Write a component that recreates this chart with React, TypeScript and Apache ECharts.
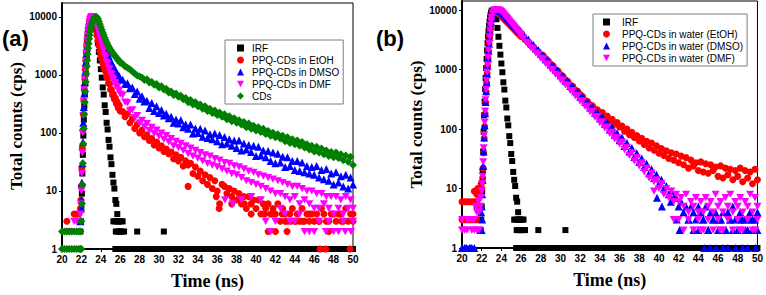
import React, { useEffect, useRef } from "react";
import * as echarts from "echarts";

// Shared time channels (ns)
const timeNs = [
  20, 20.25, 20.5, 20.75, 21, 21.25, 21.5, 21.75,
  21.9, 21.95, 22, 22.05, 22.1, 22.15, 22.2, 22.25, 22.3, 22.35, 22.4, 22.45, 22.5, 22.55,
  22.6, 22.65, 22.7, 22.75, 22.8, 22.85, 22.9, 22.95, 23,
  23.1, 23.2, 23.3, 23.4, 23.5, 23.6, 23.7, 23.8, 23.9, 24,
  24.1, 24.2, 24.3, 24.4, 24.5, 24.6, 24.7, 24.8, 24.9, 25,
  25.1, 25.2, 25.3, 25.4, 25.5, 25.6, 25.7, 25.8, 25.9, 26,
  26.25, 26.5, 26.75, 27, 27.25, 27.5, 27.75, 28,
  28.25, 28.5, 28.75, 29, 29.25, 29.5, 29.75, 30,
  30.25, 30.5, 30.75, 31, 31.25, 31.5, 31.75, 32,
  32.25, 32.5, 32.75, 33, 33.25, 33.5, 33.75, 34,
  34.25, 34.5, 34.75, 35, 35.25, 35.5, 35.75, 36,
  36.25, 36.5, 36.75, 37, 37.25, 37.5, 37.75, 38,
  38.25, 38.5, 38.75, 39, 39.25, 39.5, 39.75, 40,
  40.25, 40.5, 40.75, 41, 41.25, 41.5, 41.75, 42,
  42.25, 42.5, 42.75, 43, 43.25, 43.5, 43.75, 44,
  44.25, 44.5, 44.75, 45, 45.25, 45.5, 45.75, 46,
  46.25, 46.5, 46.75, 47, 47.25, 47.5, 47.75, 48,
  48.25, 48.5, 48.75, 49, 49.25, 49.5, 49.75, 50,
];

// IRF (same in both panels)
const irfCounts = [
  null, null, null, null, null, null, null, null,
  2, 3, 5, 9, 20, 42, 90, 170, 290, 470, 720, 1050, 1500, 2100,
  2800, 3600, 4500, 5400, 6400, 7300, 8200, 8900, 9500,
  9900, 10000, 10000, 9200, 7000, 5000, 3550, 2500, 1780, 1260,
  900, 610, 460, 300, 230, 150, 115, 76, 58, 38,
  29, 19, 14, 11, 7, 6, 4, 3, 3, 2,
  3, 1, 1, null, 1, 1, 2, 1,
  1, 1, null, 1, 1, 1, 1, 1,
  1, 2, 1, 1, null, 1, 1, 1,
  1, 1, 1, null, 1, 1, 1, 1,
  1, null, 1, 1, 1, 1, null, 1,
  1, 1, 1, 1, null, 1, 1, 1,
  1, 1, null, 1, 1, 1, 1, null,
  1, 1, 1, 1, 1, null, 1, 1,
  null, 1, 1, 1, 1, 1, null, 1,
  1, 1, 1, null, 1, 1, 1, 1,
  1, null, 1, 1, 1, 1, 1, null,
  1, 1, 1, null, 1, 1, 1, 1,
];
const irfExtra = [
  [25.3, 3], [25.45, 3], [25.55, 2], [25.65, 3], [25.75, 2], [25.85, 3], [25.95, 2],
  [26.1, 3], [26.15, 2], [26.4, 2], [25.5, 1], [25.7, 1], [25.9, 1], [26.1, 1],
];

// Panel (a)
const etohCountsA = [
  null, null, 3, null, null, 4, 4, 4,
  5, 7, 12, 25, 55, 110, 210, 360, 560, 850, 1250, 1750, 2400, 3100,
  3900, 4800, 5700, 6600, 7500, 8300, 9000, 9500, 9900,
  10000, 9800, 8600, 7200, 5900, 4800, 3900, 3200, 2600, 2150,
  1850, 1600, 1400, 1250, 1150, 940, 880, 720, 700, 560,
  560, 450, 470, 380, 400, 320, 340, 270, 300, 240,
  235, 190, 215, 150, 175, 120, 140, 100,
  112, 86, 93, 74, 80, 62, 70, 55,
  60, 48, 53, 44, 47, 36, 42, 33,
  38, 27, 33, 12, 30, 20, 26, 18,
  22, 15, 19, 13, 17, 11, 15, 10,
  6, 13, 12, 9, 11, 8, 10, 7,
  9, 6, 8, 5, 8, 6, 7, 5,
  7, 4, 6, 5, 6, 4, 5, 4,
  6, 3, 5, 4, 3, 4, 5, 3,
  4, 3, 5, 3, 4, 3, 4, 3,
  4, 3, 5, 4, 3, 3, 4, 4,
  3, 4, 4, 3, 5, 3, 4, 4,
];
const etohExtraA = [
  [33, 28], [36.2, 5], [35.9, 8], [37.5, 6], [38.8, 6], [39.5, 4], [40.9, 4], [41.25, 2],
  [41.7, 4], [42, 2], [42.7, 4], [43.0, 3], [43.2, 2], [43.6, 3], [44.1, 3], [44.8, 3],
  [45.5, 4], [46.5, 3], [46.6, 1], [47.2, 1], [47.5, 2], [48.8, 3], [49.7, 1], [50, 3],
];
const dmsoCountsA = [
  null, null, null, null, null, null, null, null,
  3, 5, 7, 14, 30, 70, 150, 280, 480, 760, 1150, 1650, 2300, 3000,
  3800, 4700, 5600, 6500, 7400, 8200, 8900, 9400, 9800,
  10000, 10000, 9700, 9200, 8500, 7800, 7100, 6400, 5800, 5200,
  4650, 4100, 3650, 3250, 2900, 2600, 2350, 2100, 1900, 1750,
  1620, 1460, 1400, 1250, 1200, 1080, 1060, 960, 950, 860,
  830, 700, 720, 590, 610, 470, 520, 390,
  430, 350, 360, 270, 330, 240, 290, 220,
  250, 200, 215, 180, 190, 150, 170, 145,
  165, 125, 140, 118, 140, 98, 120, 100,
  118, 86, 110, 82, 95, 78, 98, 72,
  92, 64, 85, 66, 78, 60, 74, 55,
  74, 50, 66, 52, 62, 47, 60, 40,
  58, 41, 50, 38, 49, 33, 46, 30,
  44, 31, 39, 26, 38, 27, 33, 23,
  33, 22, 31, 21, 27, 20, 26, 19,
  27, 17, 23, 16, 24, 15, 20, 13,
  21, 14, 18, 12, 19, 11, 17, 13,
];
const dmfCountsA = [
  null, null, null, 2, null, 3, 3, null,
  4, 6, 10, 20, 45, 100, 200, 350, 560, 850, 1250, 1750, 2400, 3100,
  3900, 4800, 5700, 6600, 7500, 8300, 9000, 9500, 9900,
  10000, 10000, 9500, 8700, 7800, 6900, 6000, 5200, 4500, 3900,
  3450, 2950, 2650, 2200, 2000, 1650, 1550, 1300, 1260, 1060,
  1010, 880, 840, 740, 720, 630, 620, 550, 540, 470,
  450, 340, 330, 240, 250, 185, 200, 150,
  165, 128, 145, 110, 125, 98, 112, 88,
  100, 78, 90, 70, 80, 60, 72, 56,
  66, 50, 60, 44, 55, 40, 50, 37,
  46, 33, 42, 30, 40, 28, 36, 26,
  34, 24, 31, 22, 30, 20, 27, 19,
  26, 17, 24, 15, 22, 14, 21, 13,
  19, 12, 18, 11, 17, 10, 16, 9,
  15, 9, 14, 8, 13, 7, 12, 8,
  12, 6, 11, 7, 10, 6, 10, 5,
  9, 5, 9, 6, 8, 5, 8, 4,
  8, 5, 7, 4, 8, 5, 7, 5,
];
const dmfExtraA = [
  [36.8, 7], [37.6, 6], [38.5, 7], [39.5, 8], [40.5, 7], [41, 3], [41.5, 2], [42, 3],
  [42.5, 5], [43, 4], [43.5, 3], [44, 3], [44.5, 4], [45, 2], [45.5, 2], [46, 2],
  [46.5, 3], [47.2, 2], [47.5, 3], [48, 2], [48.5, 2], [49, 3], [49.2, 2], [49.8, 2], [50, 3],
];
const cdsCountsA = [
  2, 2, 2, 2, 2, 2, 2, 2,
  2, 3, 3, 6, 13, 30, 65, 120, 210, 340, 520, 760, 1050, 1400,
  1800, 2300, 2900, 3500, 4200, 4900, 5600, 6300, 7000,
  7900, 8700, 9400, 9900, 10000, 9900, 9300, 8400, 7500, 6700,
  6000, 5400, 4900, 4400, 4000, 3650, 3350, 3100, 2900, 2700,
  2580, 2400, 2330, 2170, 2110, 1960, 1920, 1780, 1750, 1630,
  1560, 1400, 1330, 1250, 1150, 1060, 980, 940,
  900, 820, 840, 740, 760, 680, 700, 610,
  640, 560, 580, 500, 520, 450, 480, 420,
  440, 380, 400, 340, 370, 310, 340, 290,
  310, 262, 290, 240, 262, 220, 245, 205,
  225, 190, 210, 172, 195, 160, 180, 150,
  165, 140, 155, 126, 145, 118, 133, 110,
  125, 104, 118, 96, 108, 90, 101, 84,
  95, 80, 90, 72, 84, 67, 78, 64,
  74, 60, 70, 56, 64, 52, 60, 48,
  58, 46, 54, 43, 50, 40, 47, 38,
  46, 37, 43, 34, 41, 32, 39, 28,
];
const cdsExtraA = [
  [20, 1], [20.25, 1], [20.5, 1], [20.75, 1], [21, 1], [21.25, 1], [21.5, 1], [21.75, 1],
  [21.9, 1], [22, 1],
];

// Panel (b)
const etohCountsB = [
  6, 6, 6, 6, 6, 6, 8, 10,
  9, 12, 10, 13, 15, 22, 40, 70, 110, 180, 280, 420, 600, 850,
  1150, 1550, 2050, 2700, 3500, 4400, 5400, 6400, 7300,
  8700, 9600, 10000, 10000, 9800, 9400, 9000, 8600, 8200, 7900,
  7600, 7300, 7000, 6750, 6500, 6250, 6000, 5800, 5550, 5350,
  5150, 4950, 4750, 4550, 4380, 4200, 4050, 3900, 3750, 3600,
  3450, 3100, 2850, 2530, 2380, 2120, 1980, 1760,
  1720, 1510, 1400, 1230, 1150, 1000, 940, 820,
  770, 670, 630, 550, 520, 450, 430, 380,
  350, 300, 290, 255, 245, 215, 210, 185,
  190, 160, 165, 138, 145, 120, 128, 108,
  112, 92, 100, 80, 88, 72, 78, 63,
  70, 55, 62, 48, 58, 44, 52, 39,
  47, 36, 43, 32, 40, 30, 38, 27,
  35, 25, 33, 22, 30, 24, 27, 20,
  28, 19, 26, 18, 25, 20, 23, 16,
  24, 15, 22, 17, 21, 14, 20, 16,
  22, 13, 20, 15, 19, 12, 21, 14,
];
const etohExtraB = [
  [20, 3], [20.25, 3], [20.5, 3], [20.75, 3], [21, 3], [21.25, 3], [21.5, 3],
  [21.5, 5], [21.25, 9], [21.75, 8], [21.6, 10],
];
const dmsoCountsB = [
  1, 1, 1, 1, 1, 1, null, null,
  2, 4, 5, 8, 14, 24, 42, 72, 115, 185, 285, 430, 610, 850,
  1150, 1550, 2050, 2700, 3500, 4400, 5400, 6400, 7400,
  8800, 9700, 10000, 10000, 10000, 10000, 9950, 9900, 9800, 9500,
  9200, 8800, 8500, 8150, 7800, 7500, 7200, 6900, 6650, 6380,
  6150, 5900, 5650, 5450, 5200, 5000, 4800, 4600, 4420, 4250,
  3900, 3400, 3180, 2760, 2600, 2250, 2120, 1840,
  1740, 1490, 1420, 1210, 1160, 990, 950, 800,
  780, 650, 640, 530, 520, 430, 425, 350,
  350, 285, 285, 230, 232, 188, 192, 152,
  158, 122, 128, 98, 106, 80, 86, 65,
  72, 52, 58, 42, 48, 34, 39, 28,
  32, 23, 26, 18, 21, 15, 17, 12,
  14, 10, 11, 8, 9, 7, 7, 5,
  6, 4, 5, 3, 5, 4, 3, 5,
  4, 3, 5, 2, 4, 3, 4, 3,
  3, 4, 2, 4, 3, 5, 3, 2,
  4, 3, 3, 2, 4, 3, 3, 4,
];
const dmsoExtraB = [
  [20.4, 1], [20.9, 1], [22, 2], [22.05, 3], [39.8, 7], [40.3, 5], [41.2, 6], [41.8, 3],
  [42.1, 2], [43, 3], [43.5, 2], [44, 2], [44.5, 3], [44.6, 1], [45, 2], [45.2, 1],
  [45.5, 3], [45.8, 1], [46, 2], [46.3, 3], [46.5, 1], [46.8, 2], [47, 1], [47.2, 3],
  [47.5, 2], [47.8, 1], [48, 2], [48.3, 3], [48.5, 1], [48.8, 2], [49, 1], [49.3, 3],
  [49.5, 2], [49.8, 1], [50, 2],
];
const dmfCountsB = [
  2, 2, 2, 3, 3, 3, 4, 4,
  5, 7, 9, 12, 16, 28, 48, 80, 130, 200, 310, 460, 650, 900,
  1200, 1600, 2100, 2750, 3550, 4450, 5450, 6450, 7450,
  8900, 9800, 10000, 10000, 10000, 10000, 10000, 9900, 9700, 9400,
  9000, 8600, 8200, 7850, 7500, 7150, 6800, 6500, 6200, 5900,
  5650, 5400, 5150, 4900, 4700, 4480, 4270, 4070, 3880, 3700,
  3350, 2850, 2720, 2320, 2230, 1880, 1820, 1540,
  1490, 1250, 1210, 1010, 990, 830, 800, 670,
  660, 550, 540, 440, 440, 360, 360, 295,
  295, 240, 240, 195, 198, 158, 162, 128,
  132, 104, 108, 84, 88, 68, 72, 56,
  60, 45, 49, 36, 40, 29, 33, 24,
  27, 19, 22, 15, 18, 13, 14, 10,
  12, 8, 10, 7, 9, 6, 8, 6,
  7, 5, 8, 4, 6, 5, 7, 4,
  6, 4, 7, 5, 6, 4, 8, 5,
  6, 4, 7, 5, 8, 4, 6, 5,
  7, 4, 6, 5, 8, 4, 7, 5,
];
const dmfExtraB = [
  [20, 3], [20.5, 3], [21, 2], [21.25, 2], [21.5, 2], [21.75, 2], [21.4, 5], [21.7, 6],
  [39.5, 9], [41.5, 3], [42, 3], [42.5, 2], [43, 3], [43.5, 2], [44, 3], [44.2, 2],
  [44.5, 2], [45, 3], [45.5, 2], [46, 3], [46.2, 2], [46.5, 2], [47, 3], [47.5, 2],
  [48, 3], [48.2, 2], [48.5, 2], [49, 3], [49.5, 2], [49.8, 2], [50, 3],
];

const legendA = ["IRF", "PPQ-CDs in EtOH", "PPQ-CDs in DMSO", "PPQ-CDs in DMF", "CDs"];
const legendB = ["IRF", "PPQ-CDs in water (EtOH)", "PPQ-CDs in water (DMSO)", "PPQ-CDs in water (DMF)"];
const xTickLabels = [20, 22, 24, 26, 28, 30, 32, 34, 36, 38, 40, 42, 44, 46, 48, 50];

function toPoints(counts: (number | null)[], extra: number[][]) {
  const pts: number[][] = [];
  const n = Math.min(counts.length, timeNs.length);
  for (let i = 0; i < n; i++) {
    const v = counts[i];
    if (v != null) pts.push([timeNs[i], v]);
  }
  for (const p of extra) pts.push(p);
  return pts;
}

const INV_TRI = "path://M0,0L10,0L5,9Z";

function sc(name: string, idx: number, data: number[][], symbol: string, size: number, color: string) {
  return {
    type: "scatter",
    name,
    xAxisIndex: idx,
    yAxisIndex: idx,
    data,
    symbol,
    symbolSize: size,
    symbolKeepAspect: true,
    clip: false,
    silent: true,
    emphasis: { disabled: true },
    itemStyle: { color, opacity: 1 },
  };
}

const sans = "Liberation Sans, Arial, sans-serif";
const serif = "Liberation Serif, Times New Roman, serif";

function xAxisCfg(gi: number) {
  return {
    type: "value",
    gridIndex: gi,
    min: xTickLabels[0],
    max: xTickLabels[xTickLabels.length - 1],
    interval: 2,
    name: "Time (ns)",
    nameLocation: "middle",
    nameGap: 23,
    nameTextStyle: { fontFamily: serif, fontWeight: "bold", fontSize: 18, color: "#000" },
    axisLine: { show: true, lineStyle: { color: "#000", width: 2 } },
    axisTick: { show: true, inside: false, length: 3, lineStyle: { color: "#000", width: 1 } },
    axisLabel: { fontFamily: sans, fontWeight: "bold", fontSize: 10, color: "#000", margin: 5 },
    splitLine: { show: false },
  };
}

function yAxisCfg(gi: number, max: number) {
  return {
    type: "log",
    logBase: 10,
    gridIndex: gi,
    min: 1,
    max,
    name: "Total counts (cps)",
    nameLocation: "middle",
    nameGap: 34,
    nameTextStyle: { fontFamily: serif, fontWeight: "bold", fontSize: 17, color: "#000" },
    axisLine: { show: true, lineStyle: { color: "#000", width: 2 } },
    axisTick: { show: true, inside: false, length: 3, lineStyle: { color: "#000", width: 1 } },
    axisLabel: {
      fontFamily: sans,
      fontWeight: "bold",
      fontSize: 10,
      color: "#000",
      margin: 5,
      showMaxLabel: false,
      formatter: (v: number) => String(Math.round(v)),
    },
    splitLine: { show: false },
  };
}

function legendCfg(data: string[], left: number, top: number, padLeft: number, textPad: number) {
  return {
    data,
    orient: "vertical",
    left,
    top,
    itemWidth: 7,
    itemHeight: 7,
    itemGap: 2,
    padding: [3, 4, 3, padLeft],
    borderColor: "#808080",
    borderWidth: 1,
    borderRadius: 0,
    backgroundColor: "#fff",
    selectedMode: false,
    textStyle: { fontFamily: sans, fontSize: 10, color: "#000", padding: [0, 0, 0, textPad] },
  };
}

export default function App() {
  const ref = useRef<HTMLDivElement>(null);
  useEffect(() => {
    if (!ref.current) return;
    const chart = echarts.init(ref.current, null, { renderer: "svg", width: 766, height: 295 });
    const option: any = {
      animation: false,
      backgroundColor: "#fff",
      grid: [
        { left: 62, top: 3, width: 291, height: 246, show: true, borderColor: "#000", borderWidth: 1, backgroundColor: "transparent" },
        { left: 462, top: 1, width: 299, height: 247, show: true, borderColor: "#000", borderWidth: 1, backgroundColor: "transparent" },
      ],
      xAxis: [xAxisCfg(0), xAxisCfg(1)],
      yAxis: [yAxisCfg(0, 17400), yAxisCfg(1, 14170)],
      legend: [legendCfg(legendA, 225, 40, 12, 3), legendCfg(legendB, 593, 14, 10, 7)],
      graphic: [
        { type: "text", left: 2, top: 27, style: { text: "(a)", font: "bold 22px Liberation Sans, Arial, sans-serif", fill: "#000" } },
        { type: "text", left: 376, top: 27, style: { text: "(b)", font: "bold 22px Liberation Sans, Arial, sans-serif", fill: "#000" } },
      ],
      series: [
        sc("IRF", 0, toPoints(irfCounts, irfExtra), "rect", 6, "#000000"),
        sc(legendA[1], 0, toPoints(etohCountsA, etohExtraA), "circle", 7, "#ff0000"),
        sc(legendA[2], 0, toPoints(dmsoCountsA, []), "triangle", 8, "#0000ff"),
        sc(legendA[3], 0, toPoints(dmfCountsA, dmfExtraA), INV_TRI, 8, "#ff00ff"),
        sc(legendA[4], 0, toPoints(cdsCountsA, cdsExtraA), "diamond", 8, "#008000"),
        sc("IRF", 1, toPoints(irfCounts, irfExtra), "rect", 6, "#000000"),
        sc(legendB[1], 1, toPoints(etohCountsB, etohExtraB), "circle", 7, "#ff0000"),
        sc(legendB[2], 1, toPoints(dmsoCountsB, dmsoExtraB), "triangle", 8, "#0000ff"),
        sc(legendB[3], 1, toPoints(dmfCountsB, dmfExtraB), INV_TRI, 8, "#ff00ff"),
      ],
    };
    chart.setOption(option);
    return () => chart.dispose();
  }, []);
  return (
    <div
      ref={ref}
      style={{ position: "absolute", left: 0, top: 0, width: 766, height: 295, background: "#fff" }}
    />
  );
}
